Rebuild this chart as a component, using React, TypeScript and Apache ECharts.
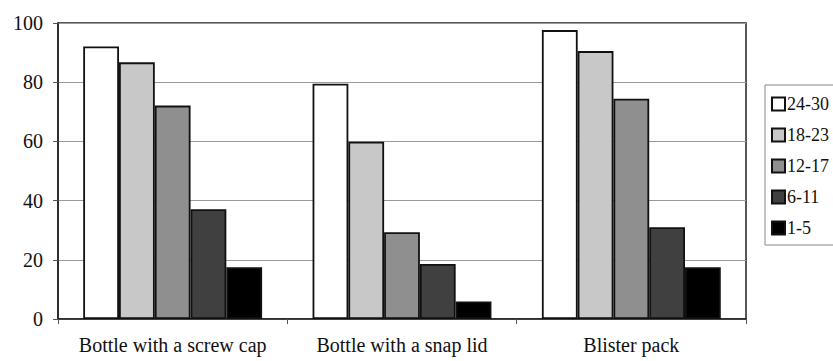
import React, { useEffect, useRef } from "react";
import * as echarts from "echarts";

const categories = ["Bottle with a screw cap", "Bottle with a snap lid", "Blister pack"];
const seriesNames = ["24-30", "18-23", "12-17", "6-11", "1-5"];
const seriesColors = ["#ffffff", "#c8c8c8", "#8f8f8f", "#404040", "#000000"];
const values24_30 = [92.1, 79.5, 97.6];
const values18_23 = [86.7, 59.9, 90.5];
const values12_17 = [72.1, 29.3, 74.4];
const values6_11 = [37.1, 18.6, 31.0];
const values1_5 = [17.5, 5.9, 17.5];
const yTicks = [0, 20, 40, 60, 80, 100];

const allValues = [values24_30, values18_23, values12_17, values6_11, values1_5];
const FONT = "Liberation Serif, DejaVu Serif, Times New Roman, serif";

export default function App() {
  const ref = useRef<HTMLDivElement>(null);
  useEffect(() => {
    if (!ref.current) return;
    const chart = echarts.init(ref.current, null, { renderer: "svg" });
    chart.setOption({
      animation: false,
      backgroundColor: "#ffffff",
      textStyle: { fontFamily: FONT, color: "#111" },
      grid: {
        left: 58,
        right: 87,
        top: 23,
        bottom: 42,
        show: true,
        borderColor: "#222",
        borderWidth: 1.5,
        containLabel: false,
      },
      legend: {
        orient: "vertical",
        left: 765,
        top: 85,
        padding: [10, 8, 8, 6],
        itemWidth: 13,
        itemHeight: 13,
        itemGap: 13,
        borderColor: "#888",
        borderWidth: 1,
        icon: "rect",
        textStyle: { fontFamily: FONT, fontSize: 18, lineHeight: 18, color: "#111", padding: [0, 0, 0, -3] },
        data: seriesNames,
      },
      xAxis: {
        type: "category",
        data: categories,
        axisLine: { lineStyle: { color: "#222", width: 1.5 } },
        axisTick: { show: true, length: 5, lineStyle: { color: "#555" } },
        axisLabel: { fontFamily: FONT, fontSize: 20, color: "#111", margin: 16, interval: 0 },
      },
      yAxis: {
        type: "value",
        min: 0,
        max: 100,
        interval: 20,
        axisLine: { show: true, lineStyle: { color: "#222", width: 1.5 } },
        axisTick: { show: true, length: 5, lineStyle: { color: "#555" } },
        axisLabel: {
          fontFamily: FONT,
          fontSize: 20,
          color: "#111",
          margin: 15,
          formatter: (v: number) => (yTicks.includes(v) ? String(v) : ""),
        },
        splitLine: { show: true, lineStyle: { color: "#9a9a9a", width: 1 } },
      },
      series: seriesNames.map((name, i) => ({
        name,
        type: "bar",
        data: allValues[i],
        barGap: "0%",
        barCategoryGap: "22%",
        itemStyle: { color: seriesColors[i], borderColor: "#111", borderWidth: 1.8 },
      })),
    });
    return () => chart.dispose();
  }, []);
  return <div ref={ref} style={{ width: 833, height: 361, position: "absolute", left: 0, top: 0 }} />;
}
